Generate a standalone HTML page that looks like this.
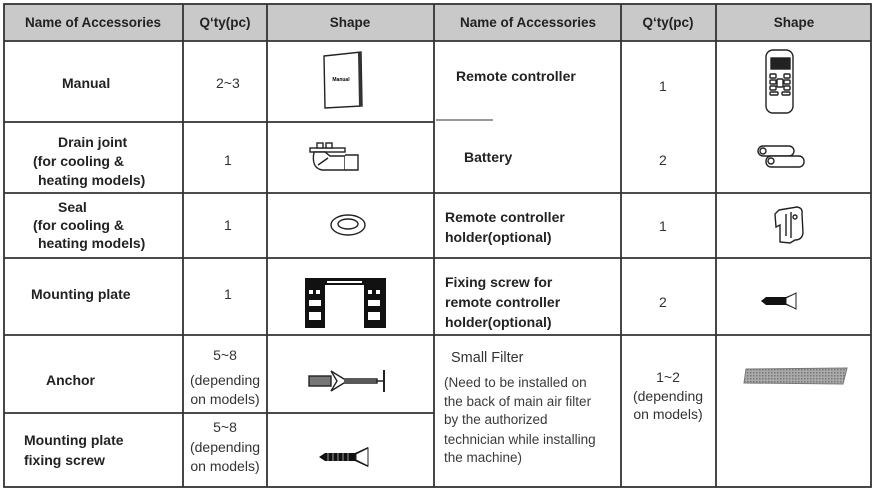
<!DOCTYPE html>
<html><head><meta charset="utf-8"><style>
html,body{margin:0;padding:0;background:#fff;}
svg{display:block;font-family:"Liberation Sans",sans-serif;}
.b{font-weight:bold;font-size:14px;fill:#222;}
.h{font-weight:bold;font-size:13.5px;fill:#222;}
.n{font-size:14px;fill:#333;}
.s{font-size:13.5px;fill:#3a3a3a;}
.ln{stroke:#333;stroke-width:1.8;fill:none;}
.ic{stroke:#222;stroke-width:1.4;fill:#fff;}
</style></head><body>
<svg width="876" height="495" viewBox="0 0 876 495">
<defs>
<pattern id="hatch" width="3" height="3" patternUnits="userSpaceOnUse">
<rect width="3" height="3" fill="#aaa"/><rect width="1.5" height="1.5" fill="#777"/>
</pattern>
</defs>
<rect x="4" y="4" width="867" height="37" fill="#c9c9c9"/>
<g class="ln">
<rect x="4" y="4" width="867" height="483"/>
<line x1="4" y1="41" x2="871" y2="41"/>
<line x1="183" y1="4" x2="183" y2="487"/>
<line x1="267" y1="4" x2="267" y2="487"/>
<line x1="434" y1="4" x2="434" y2="487"/>
<line x1="621" y1="4" x2="621" y2="487"/>
<line x1="716" y1="4" x2="716" y2="487"/>
<line x1="4" y1="122" x2="434" y2="122"/>
<line x1="436" y1="120" x2="493" y2="120" stroke-width="1"/>
<line x1="4" y1="193" x2="871" y2="193"/>
<line x1="4" y1="258" x2="871" y2="258"/>
<line x1="4" y1="335" x2="871" y2="335"/>
<line x1="4" y1="413" x2="434" y2="413"/>
</g>
<text class="h" x="93" y="27" text-anchor="middle">Name of Accessories</text>
<text class="h" x="225" y="27" text-anchor="middle">Q‘ty(pc)</text>
<text class="h" x="350" y="27" text-anchor="middle">Shape</text>
<text class="h" x="528" y="27" text-anchor="middle">Name of Accessories</text>
<text class="h" x="668" y="27" text-anchor="middle">Q‘ty(pc)</text>
<text class="h" x="794" y="27" text-anchor="middle">Shape</text>
<text class="b" x="62" y="88">Manual</text>
<text class="n" x="216" y="88">2~3</text>
<text class="b" x="58" y="147">Drain joint</text>
<text class="b" x="33" y="166">(for cooling &amp;</text>
<text class="b" x="38" y="185">heating models)</text>
<text class="n" x="224" y="165">1</text>
<text class="b" x="58" y="212">Seal</text>
<text class="b" x="33" y="230">(for cooling &amp;</text>
<text class="b" x="38" y="248">heating models)</text>
<text class="n" x="224" y="230">1</text>
<text class="b" x="31" y="299">Mounting plate</text>
<text class="n" x="224" y="299">1</text>
<text class="b" x="46" y="385">Anchor</text>
<text class="n" x="225" y="360" text-anchor="middle">5~8</text>
<text class="n" x="225" y="385" text-anchor="middle">(depending</text>
<text class="n" x="225" y="404" text-anchor="middle">on models)</text>
<text class="b" x="24" y="445">Mounting plate</text>
<text class="b" x="24" y="465">fixing screw</text>
<text class="n" x="225" y="432" text-anchor="middle">5~8</text>
<text class="n" x="225" y="452" text-anchor="middle">(depending</text>
<text class="n" x="225" y="471" text-anchor="middle">on models)</text>
<text class="b" x="456" y="81">Remote controller</text>
<text class="n" x="659" y="91">1</text>
<text class="b" x="464" y="162">Battery</text>
<text class="n" x="659" y="165">2</text>
<text class="b" x="445" y="222">Remote controller</text>
<text class="b" x="445" y="242">holder(optional)</text>
<text class="n" x="659" y="231">1</text>
<text class="b" x="445" y="287">Fixing screw for</text>
<text class="b" x="445" y="307">remote controller</text>
<text class="b" x="445" y="327">holder(optional)</text>
<text class="n" x="659" y="307">2</text>
<text x="451" y="362" style="font-size:14.5px;fill:#333">Small Filter</text>
<text class="s" x="444" y="387">(Need to be installed on</text>
<text class="s" x="444" y="406">the back of main air filter</text>
<text class="s" x="444" y="424">by the authorized</text>
<text class="s" x="444" y="444">technician while installing</text>
<text class="s" x="444" y="462">the machine)</text>
<text class="n" x="668" y="382" text-anchor="middle">1~2</text>
<text class="n" x="668" y="401" text-anchor="middle">(depending</text>
<text class="n" x="668" y="419" text-anchor="middle">on models)</text>
<path d="M324 56 L361 52 L362 106 L325 108 Z" class="ic"/>
<path d="M358 53 L361 52 L362 106 L359 107 Z" fill="#333"/>
<text x="341" y="81" style="font-size:5px;font-weight:bold" text-anchor="middle">Manual</text>
<g class="ic">
<rect x="310" y="148" width="35" height="4"/>
<rect x="317" y="143" width="6" height="5"/><rect x="326" y="143" width="6" height="5"/>
<path d="M314 152 Q311 168 322 170 L345 170 L345 156 L330 156 L325 152 Z"/>
<path d="M345 155 L358 155 L358 170 L345 170"/>
<line x1="318" y1="165" x2="328" y2="158"/>
</g>
<ellipse cx="348" cy="225" rx="17" ry="10" class="ic" stroke-width="2.2"/>
<ellipse cx="348" cy="224" rx="10" ry="5" class="ic" stroke-width="1.8"/>
<g fill="#111">
<rect x="305" y="278" width="81" height="7"/>
<rect x="305" y="278" width="20" height="50"/>
<rect x="364" y="278" width="22" height="50"/>
</g>
<g fill="#fff">
<rect x="327" y="281" width="35" height="2"/>
<rect x="309" y="290" width="4" height="4"/><rect x="316" y="290" width="4" height="4"/>
<rect x="309" y="300" width="12" height="6"/><rect x="309" y="312" width="12" height="8"/>
<rect x="368" y="290" width="4" height="4"/><rect x="376" y="290" width="4" height="4"/>
<rect x="368" y="300" width="12" height="6"/><rect x="368" y="312" width="12" height="8"/>
</g>
<g class="ic">
<rect x="309" y="376" width="22" height="10" fill="#777"/>
<path d="M331 371 L344 379 L377 379 L377 383 L344 383 L331 391 L337 381 Z"/>
<line x1="384" y1="370" x2="384" y2="392" stroke-width="2"/>
<line x1="344" y1="381" x2="384" y2="381"/>
</g>
<path d="M319 457 L325 453 L355 453 L368 447 L368 467 L355 461 L325 461 Z" fill="#111"/>
<path d="M356 454 L368 448 L368 466 L356 460 Z" fill="#fff" stroke="#222"/>
<g stroke="#fff" stroke-width="0.6">
<line x1="328" y1="453" x2="328" y2="461"/><line x1="333" y1="453" x2="333" y2="461"/><line x1="338" y1="453" x2="338" y2="461"/><line x1="343" y1="453" x2="343" y2="461"/><line x1="348" y1="453" x2="348" y2="461"/>
</g>
<g class="ic">
<rect x="766" y="50" width="27" height="63" rx="7"/>
<rect x="771" y="58" width="19" height="11" fill="#222"/>
<rect x="770" y="74" width="6" height="4" rx="1"/><rect x="784" y="74" width="6" height="4" rx="1"/>
<rect x="770" y="80" width="6" height="4" rx="1"/><rect x="784" y="80" width="6" height="4" rx="1"/>
<rect x="777" y="79" width="6" height="8" rx="1"/>
<rect x="770" y="86" width="6" height="4" rx="1"/><rect x="784" y="86" width="6" height="4" rx="1"/>
<rect x="770" y="92" width="8" height="3" rx="1"/><rect x="782" y="92" width="8" height="3" rx="1"/>
</g>
<g class="ic">
<rect x="758" y="146" width="36" height="10" rx="5"/>
<circle cx="763" cy="151" r="3"/>
<rect x="766" y="156" width="38" height="11" rx="5"/>
<circle cx="771" cy="161" r="3"/>
</g>
<g class="ic">
<path d="M779 210 L797 207 Q803 208 802 214 L803 233 Q802 240 795 240 L790 243 L780 242 L780 225 L776 227 L775 214 Z"/>
<line x1="786" y1="214" x2="786" y2="236"/>
<line x1="791" y1="212" x2="791" y2="238"/>
<circle cx="795" cy="217" r="2"/>
</g>
<path d="M761 301 L766 297 L786 297 L796 293 L796 309 L786 305 L766 305 Z" fill="#111"/>
<path d="M786 298 L796 293 L796 309 L786 304 Z" fill="#fff" stroke="#222"/>
<path d="M746 369 L847 368 L843 384 L744 383 Z" fill="url(#hatch)" stroke="#777"/>
</svg>
</body></html>
